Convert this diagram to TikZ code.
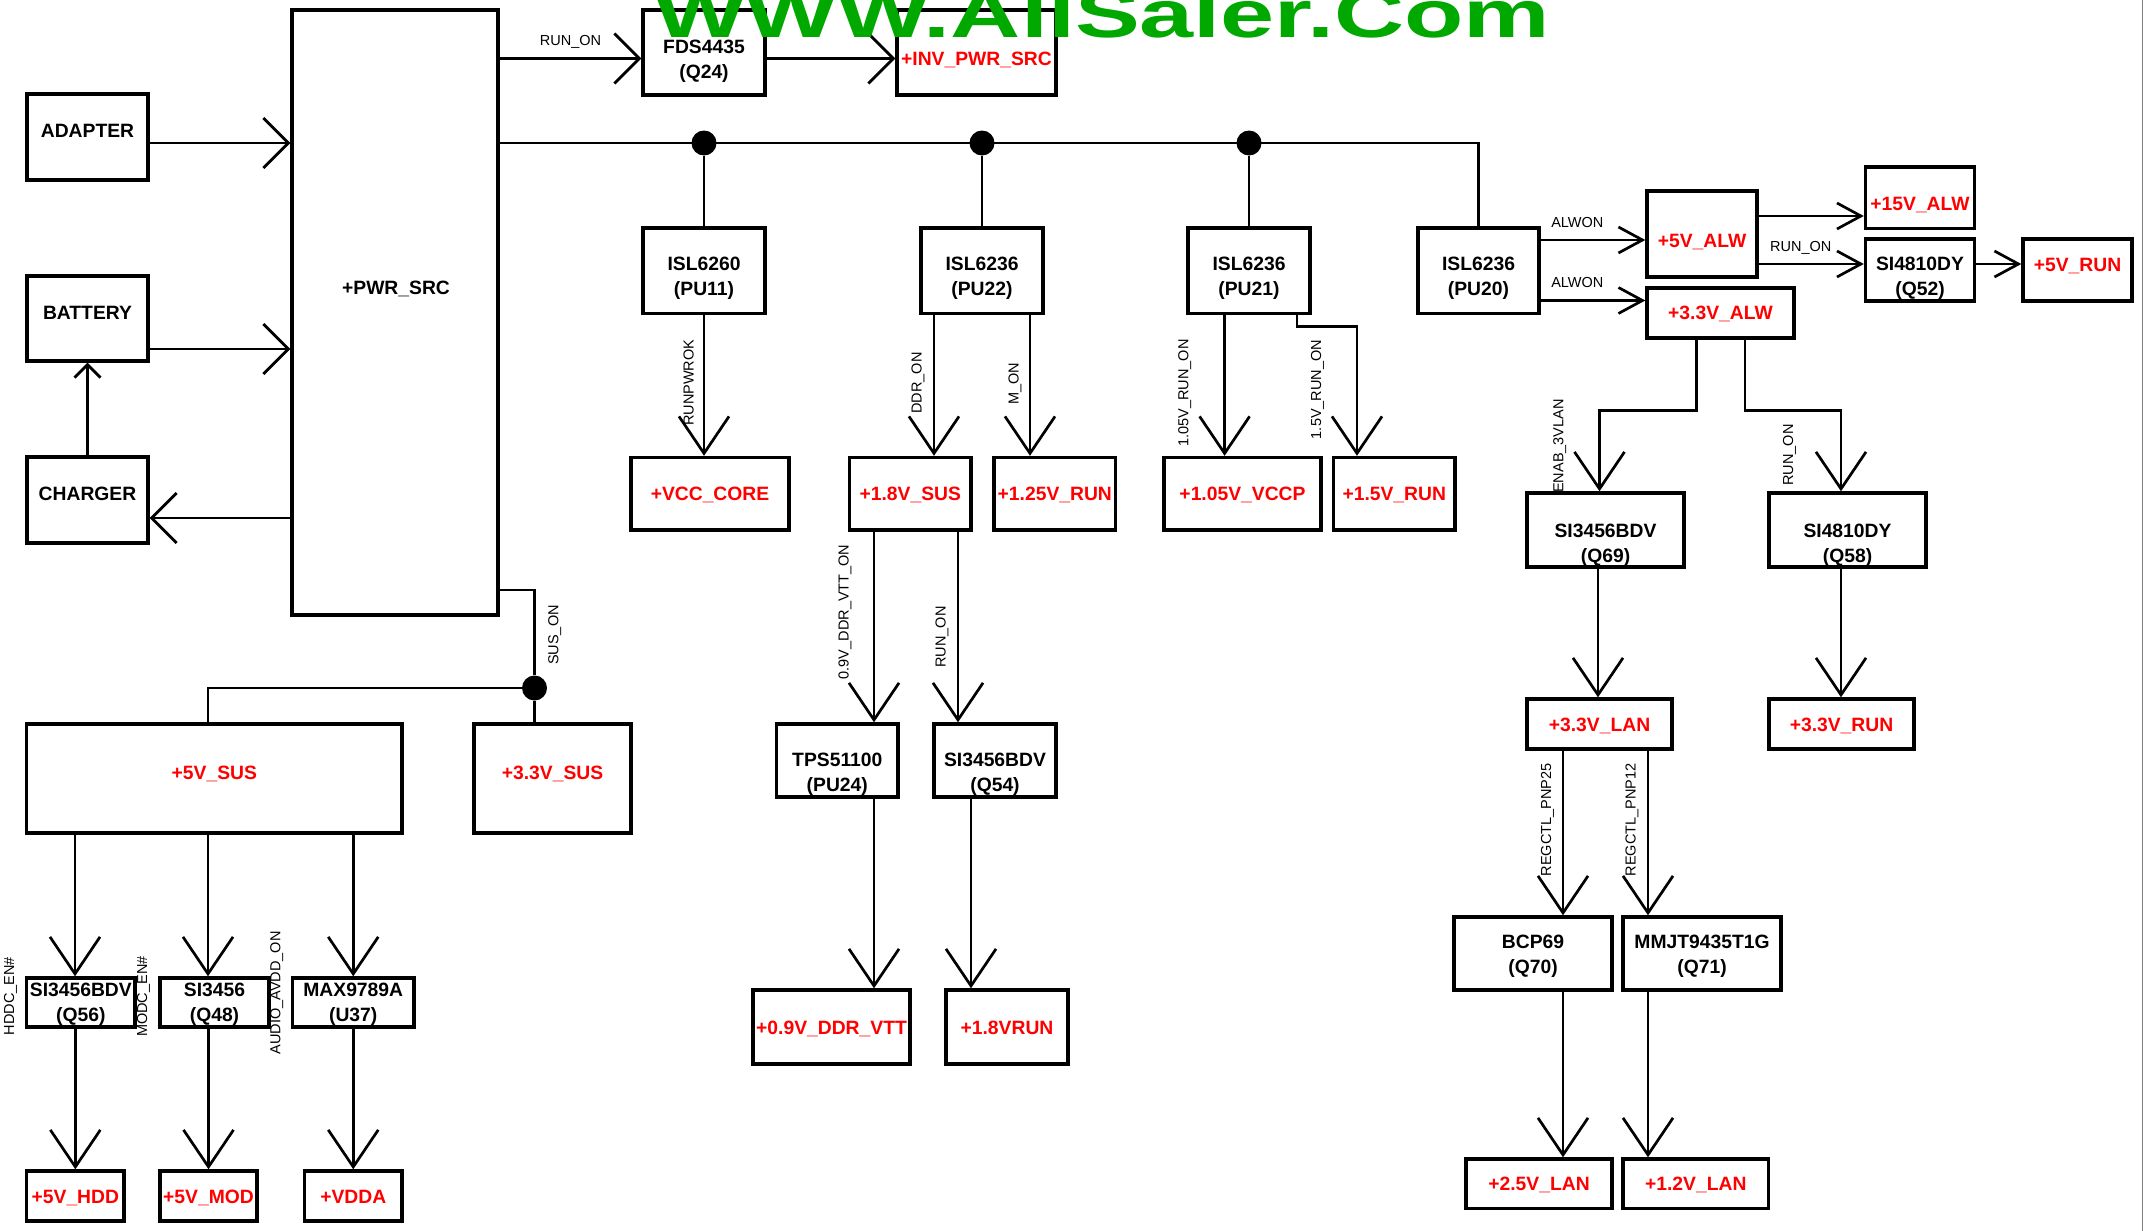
\documentclass[tikz,border=0pt]{standalone}
\usepackage{fontspec}
\setmainfont{Liberation Sans}
\usetikzlibrary{arrows.meta}
\definecolor{wmgreen}{RGB}{0,168,0}
\newcommand\chip[2]{\begin{tabular}[t]{@{}c@{}}#1\\#2\end{tabular}}

\begin{document}
\begin{tikzpicture}[x=1pt, y=-1pt,
    blk/.style={draw, line width=3.4pt, inner sep=1pt, text height=14pt, text depth=0pt,
        font=\fontsize{19.3}{25}\selectfont\bfseries},
    rail/.style={blk, text=red},
    sz/.style 2 args={minimum width=#1pt, minimum height=#2pt},
    dn/.style={text height=#1pt, text depth=0pt},
    up/.style={text height=0pt, text depth=#1pt},
    sig/.style={inner sep=0pt, font=\fontsize{14.5}{17}\selectfont},
    wire/.style={line width=2.7pt},
    harr/.style={wire, -{Straight Barb[length=25pt, width=50pt]}},
    varr/.style={wire, -{Straight Barb[length=37pt, width=50pt]}},
    sarr/.style={wire, -{Straight Barb[length=24pt, width=26pt]}},
    tarr/.style={wire, -{Straight Barb[length=13pt, width=26pt]}},
    dot/.style={circle, fill, inner sep=0pt, minimum size=25pt}]

    \useasboundingbox (0,0) rectangle (2145,1231);

    % Sources
    \node at (87.5, 137) [blk, sz={121}{86}, dn=0] (adapter) {ADAPTER};
    \node at (87.5, 318.5) [blk, sz={121}{85}, dn=1] (battery) {BATTERY};
    \node at (87.5, 500) [blk, sz={121}{86}, dn=1.8] (charger) {CHARGER};
    \node at (395, 312.5) [blk, sz={206}{605}] (pwrsrc) {};
    \node at (396, 289) [font=\fontsize{19.3}{25}\selectfont\bfseries] (pwrlbl) {+PWR\_SRC};

    \node at (704, 52.5) [blk, sz={122}{85}, dn=2.4] (fds) {\chip{FDS4435}{(Q24)}};
    \node at (976.5, 52.5) [rail, sz={159}{85}, dn=26.4] (invpwr) {+INV\_PWR\_SRC};

    % Regulators on the bus
    \node at (704, 270.75) [blk, sz={122}{85.5}, up=1] (pu11) {\chip{ISL6260}{(PU11)}};
    \node at (982, 270.75) [blk, sz={122}{85.5}, up=1] (pu22) {\chip{ISL6236}{(PU22)}};
    \node at (1249, 270.75) [blk, sz={122}{85.5}, up=1] (pu21) {\chip{ISL6236}{(PU21)}};
    \node at (1478.5, 270.75) [blk, sz={121}{85.5}, up=1] (pu20) {\chip{ISL6236}{(PU20)}};

    \node at (710, 493.75) [rail, sz={158}{72.5}] (vcccore) {+VCC\_CORE};
    \node at (910.25, 493.75) [rail, sz={121.5}{72.5}] (v18sus) {+1.8V\_SUS};
    \node at (1054.8, 493.75) [rail, sz={121.6}{72.5}] (v125run) {+1.25V\_RUN};
    \node at (1242.5, 493.75) [rail, sz={157}{72.5}] (v105vccp) {+1.05V\_VCCP};
    \node at (1394.25, 493.75) [rail, sz={121.5}{72.5}] (v15run) {+1.5V\_RUN};

    % Always-on rails
    \node at (1702, 234) [rail, sz={110}{86}, dn=26] (v5alw) {+5V\_ALW};
    \node at (1720.5, 313) [rail, sz={147}{50}, dn=13.2] (v33alw) {+3.3V\_ALW};
    \node at (1920, 197.75) [rail, sz={109}{61.5}, dn=25.7] (v15alw) {+15V\_ALW};
    \node at (1920, 270) [blk, sz={109}{62}, dn=1.4] (q52) {\chip{SI4810DY}{(Q52)}};
    \node at (2077.5, 270) [rail, sz={109}{62}, dn=2] (v5run) {+5V\_RUN};

    \node at (1605.5, 530) [blk, sz={157}{74}, dn=14] (q69) {\chip{SI3456BDV}{(Q69)}};
    \node at (1847.5, 530) [blk, sz={157}{74}, dn=14] (q58) {\chip{SI4810DY}{(Q58)}};
    \node at (1599.5, 724) [rail, sz={145}{50}] (v33lan) {+3.3V\_LAN};
    \node at (1841.5, 724) [rail, sz={145}{50}] (v33run) {+3.3V\_RUN};
    \node at (1533, 953.5) [blk, sz={158}{73}, up=11] (q70) {\chip{BCP69}{(Q70)}};
    \node at (1702, 953.5) [blk, sz={158}{73}, up=11] (q71) {\chip{MMJT9435T1G}{(Q71)}};
    \node at (1539, 1183.8) [rail, sz={146}{49.6}] (v25lan) {+2.5V\_LAN};
    \node at (1695.8, 1183.8) [rail, sz={145.6}{49.6}] (v12lan) {+1.2V\_LAN};

    % Suspend rails
    \node at (214.35, 778.5) [rail, sz={375.3}{109}, dn=1] (v5sus) {+5V\_SUS};
    \node at (552.5, 778.5) [rail, sz={157}{109}, dn=1] (v33sus) {+3.3V\_SUS};
    \node at (80.85, 1002.5) [blk, sz={108.3}{49}, up=12.4] (q56) {\chip{SI3456BDV}{(Q56)}};
    \node at (214.5, 1002.5) [blk, sz={109}{49}, up=12.4] (q48) {\chip{SI3456}{(Q48)}};
    \node at (353.25, 1002.5) [blk, sz={121.5}{49}, up=12.4] (u37) {\chip{MAX9789A}{(U37)}};
    \node at (75.35, 1196) [rail, sz={97.3}{50}] (v5hdd) {+5V\_HDD};
    \node at (208.5, 1196) [rail, sz={97}{50}] (v5mod) {+5V\_MOD};
    \node at (353.25, 1196) [rail, sz={97.5}{50}] (vdda) {+VDDA};

    \node at (837.3, 760.5) [blk, sz={121.4}{73}, dn=11.8] (pu24) {\chip{TPS51100}{(PU24)}};
    \node at (995, 760.5) [blk, sz={122}{73}, dn=11.8] (q54) {\chip{SI3456BDV}{(Q54)}};
    \node at (831.5, 1027) [rail, sz={157}{74}] (v09ddr) {+0.9V\_DDR\_VTT};
    \node at (1007, 1027) [rail, sz={122}{74}] (v18run) {+1.8VRUN};

    % Junctions
    \node at (704, 143) [dot] (d1) {};
    \node at (982, 143) [dot] (d2) {};
    \node at (1249, 143) [dot] (d3) {};
    \node at (534.5, 688) [dot] (d4) {};

    \draw[harr] ([yshift=-6pt]adapter.east) -- ([yshift=-6pt]adapter.east -| pwrsrc.west);
    \draw[harr] ([yshift=-30.5pt]battery.east) -- ([yshift=-30.5pt]battery.east -| pwrsrc.west);
    \draw[harr] ([yshift=-18pt]charger.east -| pwrsrc.west) -- ([yshift=-18pt]charger.east);
    \draw[tarr] (charger.north) -- (battery.south);

    \draw[harr] ([yshift=-6pt]fds.west -| pwrsrc.east) -- node[sig, midway, above=9.2pt] {RUN\_ON} ([yshift=-6pt]fds.west);
    \draw[harr] ([yshift=-6pt]fds.east) -- ([yshift=-6pt]invpwr.west);

    \draw[wire] (pwrsrc.east |- d1) -- (d3 -| pu20.north) -- (pu20.north);
    \draw[wire] (d1) -- (pu11.north);
    \draw[wire] (d2) -- (pu22.north);
    \draw[wire] (d3) -- (pu21.north);

    \draw[varr] (pu11.south) -- (pu11.south |- vcccore.north);
    \draw[varr] ([xshift=-48pt]pu22.south) -- ([xshift=-48pt]pu22.south |- v18sus.north);
    \draw[varr] ([xshift=48pt]pu22.south) -- ([xshift=48pt]pu22.south |- v125run.north);
    \draw[varr] ([xshift=-24.4pt]pu21.south) -- ([xshift=-24.4pt]pu21.south |- v105vccp.north);
    \draw[varr] ([xshift=48pt]pu21.south) -- ++(0,11.5) -| ([xshift=-37.25pt]v15run.north);

    \node at (688.7, 382.7) [sig, rotate=90] (lrunpwrok) {RUNPWROK};
    \node at (918, 383) [sig, rotate=90] (lddron) {DDR\_ON};
    \node at (1015, 384) [sig, rotate=90] (lmon) {M\_ON};
    \node at (1184.8, 393) [sig, rotate=90] (l105) {1.05V\_RUN\_ON};
    \node at (1317.5, 389.5) [sig, rotate=90] (l15) {1.5V\_RUN\_ON};

    % ALW side
    \draw[sarr] ([yshift=30.75pt]pu20.east) -- node[sig, pos=.35, above=10.8pt] {ALWON} ([yshift=30.75pt]pu20.east -| v5alw.west);
    \draw[sarr] ([yshift=-29.75pt]pu20.east) -- node[sig, pos=.35, above=11.3pt] {ALWON} ([yshift=-29.75pt]pu20.east -| v33alw.west);
    \draw[sarr] ([yshift=18pt]v5alw.east) -- ([yshift=18pt]v5alw.east -| v15alw.west);
    \draw[sarr] ([yshift=-30pt]v5alw.east) -- node[sig, pos=.4, above=8pt] {RUN\_ON} ([yshift=-30pt]v5alw.east -| q52.west);
    \draw[sarr] ([yshift=6pt]q52.east) -- ([yshift=6pt]q52.east -| v5run.west);

    \draw[varr] ([xshift=-24pt]v33alw.south) -- ++(0,71) -| ([xshift=-6pt]q69.north);
    \draw[varr] ([xshift=24.5pt]v33alw.south) -- ++(0,71) -| ([xshift=-6.5pt]q58.north);
    \draw[varr] ([xshift=-7.5pt]q69.south) -- ([xshift=-7.5pt]q69.south |- v33lan.north);
    \draw[varr] ([xshift=-6.5pt]q58.south) -- ([xshift=-6.5pt]q58.south |- v33run.north);
    \draw[varr] ([xshift=-36.5pt]v33lan.south) -- ([xshift=-36.5pt]v33lan.south |- q70.north);
    \draw[varr] ([xshift=48.5pt]v33lan.south) -- ([xshift=48.5pt]v33lan.south |- q71.north);
    \draw[varr] ([xshift=30pt]q70.south) -- ([xshift=30pt]q70.south |- v25lan.north);
    \draw[varr] ([xshift=-54pt]q71.south) -- ([xshift=-54pt]q71.south |- v12lan.north);

    \node at (1559.7, 446) [sig, rotate=90] (lenab) {ENAB\_3VLAN};
    \node at (1789.4, 455) [sig, rotate=90] (lrunon58) {RUN\_ON};
    \node at (1547.5, 820) [sig, rotate=90] (lpnp25) {REGCTL\_PNP25};
    \node at (1632, 820) [sig, rotate=90] (lpnp12) {REGCTL\_PNP12};

    % SUS side
    \draw[wire] ([yshift=-277.5pt]pwrsrc.east) -| (d4);
    \draw[wire] (d4) -- (d4 |- v33sus.north);
    \draw[wire] (d4) -| ([xshift=-6.35pt]v5sus.north);
    \node at (554.7, 635) [sig, rotate=90] (lsuson) {SUS\_ON};

    \draw[varr] ([xshift=-5.85pt]q56.north |- v5sus.south) -- ([xshift=-5.85pt]q56.north);
    \draw[varr] ([xshift=-6.5pt]q48.north |- v5sus.south) -- ([xshift=-6.5pt]q48.north);
    \draw[varr] (u37.north |- v5sus.south) -- (u37.north);
    \draw[varr] (v5hdd.north |- q56.south) -- (v5hdd.north);
    \draw[varr] (v5mod.north |- q48.south) -- (v5mod.north);
    \draw[varr] (vdda.north |- u37.south) -- (vdda.north);

    \node at (10.5, 996) [sig, rotate=90] (lhddc) {HDDC\_EN\#};
    \node at (143.5, 996.7) [sig, rotate=90] (lmodc) {MODC\_EN\#};
    \node at (276.7, 993) [sig, rotate=90] (laudio) {AUDIO\_AVDD\_ON};

    % DDR side
    \draw[varr] ([xshift=36.7pt]pu24.north |- v18sus.south) -- ([xshift=36.7pt]pu24.north);
    \draw[varr] ([xshift=-37pt]q54.north |- v18sus.south) -- ([xshift=-37pt]q54.north);
    \draw[varr] ([xshift=36.7pt]pu24.south) -- ([xshift=36.7pt]pu24.south |- v09ddr.north);
    \draw[varr] ([xshift=-24pt]q54.south) -- ([xshift=-24pt]q54.south |- v18run.north);

    \node at (845, 612) [sig, rotate=90] (lvtt) {0.9V\_DDR\_VTT\_ON};
    \node at (942, 637) [sig, rotate=90] (lrunon54) {RUN\_ON};

    % edge line and watermark
    \draw[gray, line width=1.2pt] (2142.7, 0) -- (2142.7, 1231);
    \node at (654, 38) [anchor=base west, inner sep=0pt, text=wmgreen,
        font=\fontsize{67}{67}\selectfont\bfseries] (wmark) {\scalebox{1.45}[1]{WWW.AllSaler.Com}};

\end{tikzpicture}
\end{document}
